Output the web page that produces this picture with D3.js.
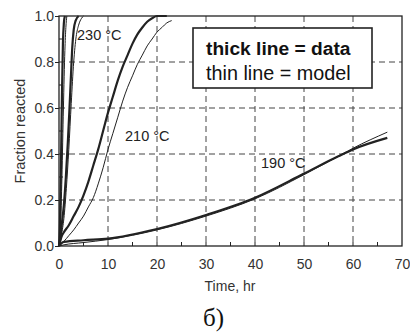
<!DOCTYPE html>
<html>
<head>
<meta charset="utf-8">
<script src="https://cdn.jsdelivr.net/npm/d3@7"></script>
<style>
  html, body { margin: 0; padding: 0; background: #fff; }
  svg { display: block; font-family: "Liberation Sans", Arial, sans-serif; }
</style>
</head>
<body>
<div id="chart"></div>
<script>
// time axis ticks, hr
const xTicks = [0, 10, 20, 30, 40, 50, 60, 70];
const yTicks = [0.0, 0.2, 0.4, 0.6, 0.8, 1.0];

// fastest run (unlabeled, left edge)
const fastDataT = [0, 0.2, 0.4, 0.6, 0.8, 1.0, 1.2];
const fastDataF = [0, 0.10, 0.35, 0.65, 0.88, 0.97, 1.0];
const fastModelT = [0, 0.3, 0.6, 0.9, 1.2, 1.4, 1.6];
const fastModelF = [0, 0.08, 0.30, 0.60, 0.85, 0.95, 1.0];

// 230 °C
const t230DataT = [0, 0.3, 0.6, 1.0, 1.4, 1.8, 2.1, 2.4, 2.7, 3.0, 3.4, 4.0];
const t230DataF = [0, 0.04, 0.10, 0.18, 0.30, 0.45, 0.58, 0.72, 0.86, 0.94, 0.98, 1.0];
const t230ModelT = [0, 0.5, 1.0, 1.5, 2.0, 2.5, 3.0, 3.5, 4.0, 4.6, 5.0];
const t230ModelF = [0, 0.05, 0.12, 0.25, 0.42, 0.62, 0.80, 0.91, 0.96, 0.99, 1.0];

// 210 °C
const t210DataT = [0, 0.5, 1, 2, 3, 4, 5, 6, 7, 8, 9, 10, 11, 12, 13, 14, 15, 16, 17, 18, 19, 20, 22];
const t210DataF = [0, 0.04, 0.06, 0.09, 0.13, 0.17, 0.22, 0.28, 0.35, 0.42, 0.50, 0.58, 0.65, 0.72, 0.78, 0.83, 0.88, 0.92, 0.95, 0.975, 0.99, 1.0, 1.0];
const t210ModelT = [0, 1, 2, 3, 4, 5, 6, 7, 8, 9, 10, 11, 12, 13, 14, 15, 16, 17, 18, 19, 20, 21, 22, 23];
const t210ModelF = [0, 0.02, 0.045, 0.07, 0.10, 0.13, 0.17, 0.21, 0.27, 0.34, 0.42, 0.49, 0.56, 0.63, 0.69, 0.74, 0.79, 0.83, 0.87, 0.90, 0.93, 0.95, 0.97, 0.98];

// 190 °C
const t190DataT = [0, 0.5, 1, 5, 10, 20, 30, 40, 50, 57, 60, 67];
const t190DataF = [0, 0.012, 0.018, 0.025, 0.032, 0.074, 0.135, 0.21, 0.315, 0.39, 0.42, 0.47];
const t190ModelT = [0, 1, 5, 10, 20, 30, 40, 50, 57, 60, 67];
const t190ModelF = [0, 0.005, 0.015, 0.028, 0.07, 0.13, 0.205, 0.31, 0.39, 0.425, 0.495];

const tempLabels = ["230 °C", "210 °C", "190 °C"];

const W = 410, H = 333;
const svg = d3.select("#chart").append("svg")
    .attr("width", W)
    .attr("height", H);

const x = d3.scaleLinear().domain([0, 70]).range([59, 402]);
const y = d3.scaleLinear().domain([0, 1]).range([246, 16]);
const ink = "#222";

// 网格线 (dashed)
const grid = svg.append("g")
    .attr("stroke", "#444")
    .attr("stroke-width", 1)
    .attr("stroke-dasharray", "6,4");
grid.selectAll("line.v")
    .data(xTicks.filter(d => d > 0 && d < 70))
    .join("line")
    .attr("class", "v")
    .attr("x1", d => x(d)).attr("x2", d => x(d))
    .attr("y1", y(1)).attr("y2", y(0));
grid.selectAll("line.h")
    .data(yTicks.filter(d => d > 0 && d < 1))
    .join("line")
    .attr("class", "h")
    .attr("x1", x(0)).attr("x2", x(70))
    .attr("y1", d => y(d)).attr("y2", d => y(d));

// frame
svg.append("rect")
    .attr("x", x(0)).attr("y", y(1))
    .attr("width", x(70) - x(0)).attr("height", y(0) - y(1))
    .attr("fill", "none")
    .attr("stroke", ink)
    .attr("stroke-width", 1.3);

// axes
const xAxis = svg.append("g")
    .attr("transform", `translate(0,${y(0)})`)
    .call(d3.axisBottom(x).tickValues(xTicks).tickSize(0).tickPadding(13).tickFormat(d3.format("d")));
xAxis.select(".domain").remove();
xAxis.selectAll("text")
    .attr("font-size", 14)
    .attr("fill", "#333")
    .attr("font-family", "Liberation Sans, Arial, sans-serif");

const yAxis = svg.append("g")
    .attr("transform", `translate(${x(0)},0)`)
    .call(d3.axisLeft(y).tickValues(yTicks).tickSize(4).tickPadding(1).tickFormat(d3.format(".1f")));
yAxis.select(".domain").remove();
yAxis.selectAll("line").attr("stroke", ink);
yAxis.selectAll("text")
    .attr("font-size", 14)
    .attr("fill", "#333")
    .attr("font-family", "Liberation Sans, Arial, sans-serif");

// minor ticks
svg.append("g")
    .selectAll("line")
    .data(d3.range(5, 70, 5))
    .join("line")
    .attr("x1", d => x(d)).attr("x2", d => x(d))
    .attr("y1", y(0)).attr("y2", y(0) - 4)
    .attr("stroke", ink);
svg.append("g")
    .selectAll("line")
    .data([0.1, 0.3, 0.5, 0.7, 0.9])
    .join("line")
    .attr("x1", x(0)).attr("x2", x(0) + 4)
    .attr("y1", d => y(d)).attr("y2", d => y(d))
    .attr("stroke", ink);

// curves
const line = d3.line()
    .x(d => x(d[0]))
    .y(d => y(d[1]))
    .curve(d3.curveMonotoneX);

const series = [
    {t: fastModelT, f: fastModelF, w: 1},
    {t: fastDataT, f: fastDataF, w: 2.2},
    {t: t230ModelT, f: t230ModelF, w: 1},
    {t: t230DataT, f: t230DataF, w: 2.2},
    {t: t210ModelT, f: t210ModelF, w: 1},
    {t: t210DataT, f: t210DataF, w: 2.2},
    {t: t190ModelT, f: t190ModelF, w: 1},
    {t: t190DataT, f: t190DataF, w: 2.2}
];

svg.append("g")
    .selectAll("path")
    .data(series)
    .join("path")
    .attr("d", d => line(d.t.map((t, i) => [t, d.f[i]])))
    .attr("fill", "none")
    .attr("stroke", ink)
    .attr("stroke-width", d => d.w)
    .attr("stroke-linejoin", "round");

// temperature labels
const labelPos = [[77, 40], [125, 141], [261, 168]];
svg.append("g")
    .selectAll("text")
    .data(tempLabels)
    .join("text")
    .attr("x", (d, i) => labelPos[i][0])
    .attr("y", (d, i) => labelPos[i][1])
    .attr("font-size", 14.5)
    .attr("fill", "#222")
    .text(d => d);

// legend box
const legend = svg.append("g");
legend.append("rect")
    .attr("x", 193).attr("y", 28)
    .attr("width", 179).attr("height", 60)
    .attr("fill", "#fff")
    .attr("stroke", ink)
    .attr("stroke-width", 1.6);
legend.append("text")
    .attr("x", 206).attr("y", 55)
    .attr("font-size", 19.2)
    .attr("font-weight", "bold")
    .attr("fill", "#111")
    .text("thick line = data");
legend.append("text")
    .attr("x", 206).attr("y", 80)
    .attr("font-size", 19.8)
    .attr("fill", "#111")
    .text("thin line = model");

// axis titles
svg.append("text")
    .attr("transform", "translate(25,131) rotate(-90)")
    .attr("text-anchor", "middle")
    .attr("font-size", 14.5)
    .attr("fill", "#333")
    .text("Fraction reacted");
svg.append("text")
    .attr("x", 230).attr("y", 291)
    .attr("text-anchor", "middle")
    .attr("font-size", 14)
    .attr("fill", "#333")
    .text("Time, hr");
svg.append("text")
    .attr("x", 203).attr("y", 326)
    .attr("font-family", "Liberation Serif, Times New Roman, serif")
    .attr("font-size", 25)
    .attr("fill", "#111")
    .text("б)");
</script>
</body>
</html>
